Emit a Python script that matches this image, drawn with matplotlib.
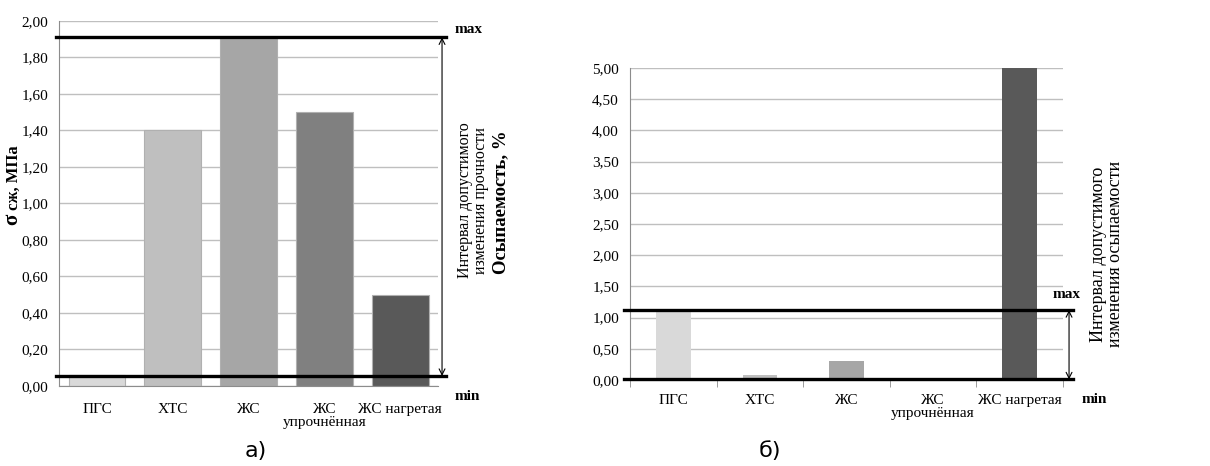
import numpy as np
import matplotlib
matplotlib.use('Agg')
import matplotlib.pyplot as plt
from matplotlib.ticker import FuncFormatter

categories = ['ПГС', 'ХТС', 'ЖС', 'ЖС\nупрочнённая', 'ЖС нагретая']
strength = [0.06, 1.40, 1.90, 1.50, 0.50]
strength_min, strength_max = 0.055, 1.91
crumbling = [1.10, 0.08, 0.30, 0.00, 5.00]
crumbling_min, crumbling_max = 0.01, 1.12
colors_a = ['#d9d9d9', '#bfbfbf', '#a6a6a6', '#808080', '#595959']
colors_b = ['#d9d9d9', '#bfbfbf', '#a6a6a6', '#808080', '#595959']

plt.rcParams['font.family'] = ['Liberation Serif', 'DejaVu Serif']
plt.rcParams['font.size'] = 10.5

fig = plt.figure(figsize=(12.1, 4.66), dpi=100)
comma = FuncFormatter(lambda v, p: ('%.2f' % v).replace('.', ','))
x = np.arange(len(categories))
grid_c = '#bfbfbf'


def style(ax, ymax, step):
    ax.set_xlim(-0.5, len(categories) - 0.5)
    ax.set_ylim(0, ymax)
    ax.set_yticks(np.arange(0, ymax + step / 2, step))
    ax.yaxis.set_major_formatter(comma)
    ax.yaxis.grid(True, color=grid_c, lw=1)
    ax.set_axisbelow(True)
    for s in ['top', 'right']:
        ax.spines[s].set_visible(False)
    for s in ['left', 'bottom']:
        ax.spines[s].set_color('#8c8c8c')
    ax.tick_params(axis='y', length=0, pad=8, labelsize=11)
    ax.set_xticks(x)
    ax.set_xticklabels(categories, linespacing=1.0, fontsize=11)


def limits(ax, lo, hi, x0, x1, xa):
    tr = ax.get_yaxis_transform()
    for v in (lo, hi):
        ax.plot([x0, x1], [v, v], color='black', lw=2.4, transform=tr, clip_on=False, zorder=5)
    ax.annotate('', xy=(xa, lo), xytext=(xa, hi), xycoords=tr, textcoords=tr,
                arrowprops=dict(arrowstyle='<->', color='black', lw=0.8, shrinkA=0, shrinkB=0))


# а)
ax1 = fig.add_axes([0.0488, 0.1717, 0.3132, 0.7833])
ax1.bar(x, strength, width=0.75, color=colors_a, edgecolor='#b0b0b0', lw=0.8)
style(ax1, 2.0, 0.2)
ax1.tick_params(axis='x', length=0, pad=12)
limits(ax1, strength_min, strength_max, -0.008, 1.021, 1.0106)
ax1.text(1.043, strength_max + 0.01, 'max', transform=ax1.get_yaxis_transform(),
         fontweight='bold', fontsize=11, va='bottom')
ax1.text(1.043, -0.02, 'min', transform=ax1.get_yaxis_transform(),
         fontweight='bold', fontsize=11, va='top')
fig.text(0.0145, 0.541, 'σ', rotation=90, rotation_mode='anchor', fontweight='bold',
         fontsize=15, ha='right', va='baseline')
fig.text(0.0145, 0.549, 'сж, МПа', rotation=90, rotation_mode='anchor', fontweight='bold',
         fontsize=12, ha='left', va='baseline')
fig.text(0.391, 0.57, 'Интервал допустимого\nизменения прочности', rotation=90,
         fontsize=11.5, ha='center', va='center', linespacing=1.0)
fig.text(0.211, 0.032, 'а)', fontsize=16, family='DejaVu Sans', ha='center', va='center')

# б)
ax2 = fig.add_axes([0.5207, 0.1845, 0.3578, 0.6695])
ax2.bar(x, crumbling, width=0.4, color=colors_b)
style(ax2, 5.0, 0.5)
ax2.set_xticks(np.arange(-0.5, len(categories)), minor=True)
ax2.tick_params(axis='x', which='major', length=0, pad=10)
ax2.tick_params(axis='x', which='minor', length=5, color='#8c8c8c')
limits(ax2, crumbling_min, crumbling_max, -0.014, 1.023, 1.014)
ax2.text(0.977, crumbling_max + 0.15, 'max', transform=ax2.get_yaxis_transform(),
         fontweight='bold', fontsize=11, va='bottom')
ax2.text(1.044, -0.2, 'min', transform=ax2.get_yaxis_transform(),
         fontweight='bold', fontsize=11, va='top')
fig.text(0.4135, 0.566, 'Осыпаемость, %', rotation=90, fontweight='bold', fontsize=13.5,
         ha='center', va='center')
fig.text(0.915, 0.455, 'Интервал допустимого\nизменения осыпаемости', rotation=90,
         fontsize=13, ha='center', va='center', linespacing=1.0)
fig.text(0.636, 0.032, 'б)', fontsize=16, family='DejaVu Sans', ha='center', va='center')

fig.savefig('out.png', dpi=100)
